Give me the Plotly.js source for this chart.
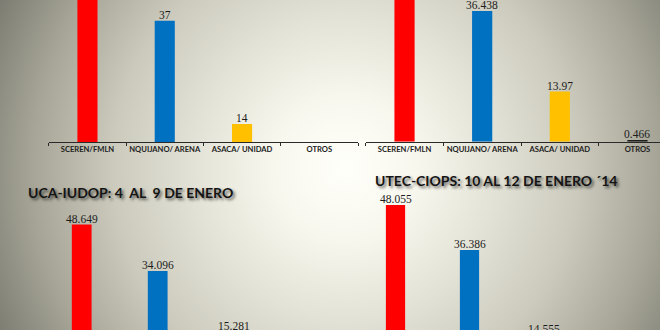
<!DOCTYPE html>
<html>
<head>
<meta charset="utf-8">
<script src="https://cdn.plot.ly/plotly-3.0.1.min.js"></script>
<style>
  html, body { margin: 0; padding: 0; width: 660px; height: 330px; overflow: hidden; }
  body {
    background: radial-gradient(circle 400px at 345px 168px,
      #fffffa 0%, #f8f7ee 18%, #e3e2d6 38%, #cbcabd 58%, #a6a597 78%, #73736a 100%);
  }
  #chart { width: 660px; height: 420px; }
</style>
</head>
<body>
<div id="chart"></div>
<script>
// ---- data ----
const categories = ['SCEREN/FMLN', 'NQUIJANO/ ARENA', 'ASACA/ UNIDAD', 'OTROS'];
const pollTopLeft = [49, 37, 14, null];
const pollTopRight = [49.126, 36.438, 13.97, 0.466];
const pollUcaIudop = [48.649, 34.096, 15.281, null];
const pollUtecCiops = [48.055, 36.386, 14.555, null];
const titleUcaIudop = 'UCA-IUDOP: 4\u00a0 AL\u00a0 9 DE ENERO';
const titleUtecCiops = 'UTEC-CIOPS: 10 AL 12 DE ENERO \u00b414';

// ---- styling ----
const barColors = ['#ff0000', '#0070c0', '#ffc000', '#1e1e1e'];
const W = 660, H = 420;
const fx = px => px / W;
const fy = px => 1 - px / H;

const panels = [
  { vals: pollTopLeft,   xd: [48.8, 358],   xr: [-0.5, 3.5],  yd: [142, 0],     yr: [10, 41.63], labels: true },
  { vals: pollTopRight,  xd: [365.7, 660],  xr: [-0.5, 3.29], yd: [141.7, 0],   yr: [0, 39.47],  labels: true },
  { vals: pollUcaIudop,  xd: [43.7, 347.7], xr: [-0.5, 3.5],  yd: [380.2, 205], yr: [0, 54.74],  labels: false },
  { vals: pollUtecCiops, xd: [358.5, 654.5],xr: [-0.5, 3.5],  yd: [390.5, 190], yr: [0, 51.94],  labels: false }
];

const labelFont = { family: 'Liberation Serif, Times New Roman, serif', size: 11.5, color: '#1c1c1c' };

const data = [];
const layout = {
  width: W, height: H,
  margin: { l: 0, r: 0, t: 0, b: 0 },
  paper_bgcolor: 'rgba(0,0,0,0)',
  plot_bgcolor: 'rgba(0,0,0,0)',
  showlegend: false,
  annotations: []
};

panels.forEach((p, i) => {
  const n = i === 0 ? '' : String(i + 1);
  data.push({
    type: 'bar',
    x: categories,
    y: p.vals,
    xaxis: 'x' + n,
    yaxis: 'y' + n,
    width: 0.26,
    marker: { color: barColors, line: { width: 0 } },
    hoverinfo: 'none'
  });
  // value labels just above each bar top (only for bars whose top is inside the panel)
  p.vals.forEach((v, k) => {
    if (v == null || v > p.yr[1]) return;
    layout.annotations.push({
      xref: 'x' + n, yref: 'y' + n, x: categories[k], y: v,
      xanchor: 'center', yanchor: 'middle', yshift: 5.6,
      showarrow: false, text: String(v), font: labelFont
    });
  });
  layout['xaxis' + n] = {
    domain: [fx(p.xd[0]), fx(p.xd[1])],
    range: p.xr,
    type: 'category',
    anchor: 'y' + n,
    showline: true, linecolor: '#2a2a2a', linewidth: 1,
    ticks: 'outside', tickson: 'boundaries', ticklen: 3, tickcolor: '#2a2a2a', tickwidth: 1,
    tickangle: 0, showticklabels: p.labels,
    showgrid: false, zeroline: false, fixedrange: true,
    tickfont: { family: 'Lato, Open Sans, sans-serif', size: 7.6, color: '#222', weight: 'bold' }
  };
  layout['yaxis' + n] = {
    domain: [fy(p.yd[0]), fy(p.yd[1])],
    range: p.yr,
    anchor: 'x' + n,
    visible: false, showgrid: false, zeroline: false, fixedrange: true
  };
});

const titleFont = {
  family: 'Lato, Open Sans, sans-serif', size: 14, color: '#141414', weight: 'bold',
  shadow: '2px 2px 3px rgba(0,0,0,0.6)'
};
layout.annotations.push({
  xref: 'paper', yref: 'paper', x: fx(26), y: fy(192.7),
  xanchor: 'left', yanchor: 'middle', showarrow: false,
  text: titleUcaIudop, font: titleFont
});
layout.annotations.push({
  xref: 'paper', yref: 'paper', x: fx(495.8), y: fy(180),
  xanchor: 'center', yanchor: 'middle', showarrow: false,
  text: titleUtecCiops, font: titleFont
});

Plotly.newPlot('chart', data, layout, { staticPlot: true, displayModeBar: false });
</script>
</body>
</html>
